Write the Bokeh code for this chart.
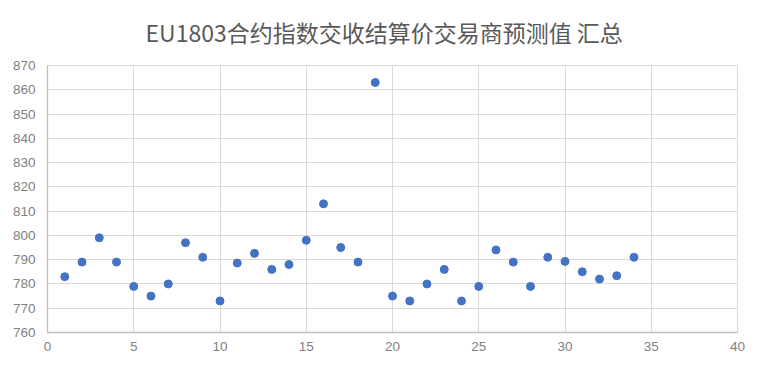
from bokeh.plotting import figure
from bokeh.models import SingleIntervalTicker, Range1d, ColumnDataSource
from bokeh.embed import file_html
from bokeh.resources import INLINE

title_text = "EU1803合约指数交收结算价交易商预测值 汇总"
x_vals = list(range(1, 35))
y_vals = [783, 789, 799, 789, 779, 775, 780, 797, 791, 773,
          788.6, 792.6, 786, 788, 798, 813, 795, 789, 863, 775,
          773, 780, 786, 773, 779, 794, 789, 779, 791, 789.3,
          785, 782, 783.4, 791]
x_range = (0, 40)
y_range = (760, 870)

W, H = 755, 359
p = figure(width=W, height=H, output_backend="svg", toolbar_location=None,
           x_range=Range1d(*x_range), y_range=Range1d(*y_range),
           min_border_left=47, min_border_right=W - 737,
           min_border_top=65, min_border_bottom=H - 332)

p.title.text = title_text
p.title.align = "left"
p.title.offset = 98
p.title.vertical_align = "top"
p.title.standoff = 29
p.title.text_line_height = 0.75
p.title.text_font = "Noto Sans CJK SC"
p.title.text_font_size = "23px"
p.title.text_font_style = "normal"
p.title.text_color = "#595959"

src = ColumnDataSource(dict(x=x_vals, y=y_vals))
p.scatter("x", "y", source=src, size=8, fill_color="#4472C4",
          line_color="#4472C4", line_width=1)

p.xaxis.ticker = SingleIntervalTicker(interval=5)
p.yaxis.ticker = SingleIntervalTicker(interval=10)
for ax in (p.xaxis, p.yaxis):
    ax.major_tick_line_color = None
    ax.minor_tick_line_color = None
    ax.major_tick_out = 0
    ax.major_tick_in = 0
    ax.minor_tick_out = 0
    ax.minor_tick_in = 0
    ax.axis_line_color = "#bfbfbf"
    ax.axis_line_width = 1.3
    ax.major_label_text_font = "Liberation Sans"
    ax.major_label_text_font_size = "13.5px"
    ax.major_label_text_color = "#7f7f7f"
p.yaxis.major_label_standoff = 12
p.xaxis.major_label_standoff = 9

p.xgrid.grid_line_color = "#d9d9d9"
p.ygrid.grid_line_color = "#d9d9d9"
p.outline_line_color = "#d9d9d9"
p.background_fill_color = "white"
p.border_fill_color = "white"

open("out.html", "w").write(file_html(p, INLINE))
